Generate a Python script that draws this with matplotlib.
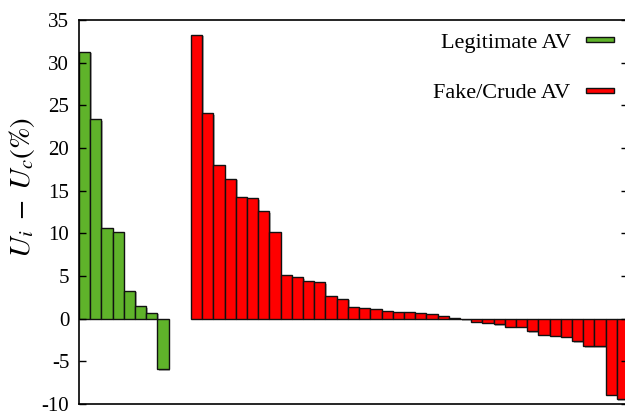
import matplotlib
matplotlib.use('Agg')
import matplotlib.pyplot as plt
from matplotlib.patches import Patch, Rectangle
from matplotlib.legend_handler import HandlerPatch
import matplotlib.patheffects as pe

legit_vals = [31.3, 23.4, 10.6, 10.2, 3.3, 1.5, 0.7, -5.9]
fake_vals = [33.3, 24.1, 18.0, 16.4, 14.2, 14.1, 12.6, 10.1, 5.1, 4.9, 4.4, 4.3,
             2.6, 2.35, 1.37, 1.3, 1.18, 0.9, 0.8, 0.78, 0.67, 0.6, 0.32, 0.13,
             -0.05, -0.35, -0.46, -0.65, -0.93, -0.93, -1.47, -1.86, -2.0, -2.1,
             -2.67, -3.2, -3.2, -8.9, -9.4]
yticks = [-10, -5, 0, 5, 10, 15, 20, 25, 30, 35]
labels = ['Legitimate AV', 'Fake/Crude AV']
green = '#5fb32a'
red = '#ff0000'

plt.rcParams['font.family'] = ['Liberation Serif', 'DejaVu Serif']
plt.rcParams['mathtext.fontset'] = 'stix'

fig = plt.figure(figsize=(6.25, 4.15), dpi=100)
ax = fig.add_axes([79/625, 1-404/415, (628-79)/625, (404-20)/415])

shadow = [pe.SimplePatchShadow(offset=(1.2, -1.2), shadow_rgbFace='gray', alpha=0.6), pe.Normal()]

x_legit = list(range(len(legit_vals)))
x_fake = [10 + i for i in range(len(fake_vals))]
b1 = ax.bar(x_legit, legit_vals, width=1.0, align='edge', color=green,
            edgecolor='#111111', linewidth=1.0)
b2 = ax.bar(x_fake, fake_vals, width=1.0, align='edge', color=red,
            edgecolor='#111111', linewidth=1.0)
for b in list(b1) + list(b2):
    b.set_path_effects(shadow)

ax.set_xlim(0, 49)
ax.set_ylim(-10, 35)
ax.set_yticks(yticks)
ax.set_yticklabels([str(t) for t in yticks])
ax.set_xticks([])
ax.tick_params(axis='y', direction='in', length=5, width=1, right=True, labelsize=15, pad=7)
for s in ax.spines.values():
    s.set_linewidth(1.2)

fig.text(22/625, 1-187/415, r'$U_i\;-\;U_c(\%)$', fontsize=21, rotation=90,
         ha='center', va='center')


def thin_rect(legend, orig_handle, xdescent, ydescent, width, height, fontsize):
    h = 3.8
    return Rectangle((-xdescent, -ydescent + height/2 - h/2), width, h)


handles = [Patch(facecolor=green, edgecolor='#111111', linewidth=1.0),
           Patch(facecolor=red, edgecolor='#111111', linewidth=1.0)]
leg = ax.legend(handles, labels, loc='upper right', bbox_to_anchor=(614/625, 1-32/415),
                bbox_transform=fig.transFigure, frameon=False, markerfirst=False,
                fontsize=16, handlelength=1.25, labelspacing=1.35,
                handletextpad=0.7, borderpad=0, borderaxespad=0,
                handler_map={Patch: HandlerPatch(patch_func=thin_rect)})

fig.savefig('out.png', dpi=100)
